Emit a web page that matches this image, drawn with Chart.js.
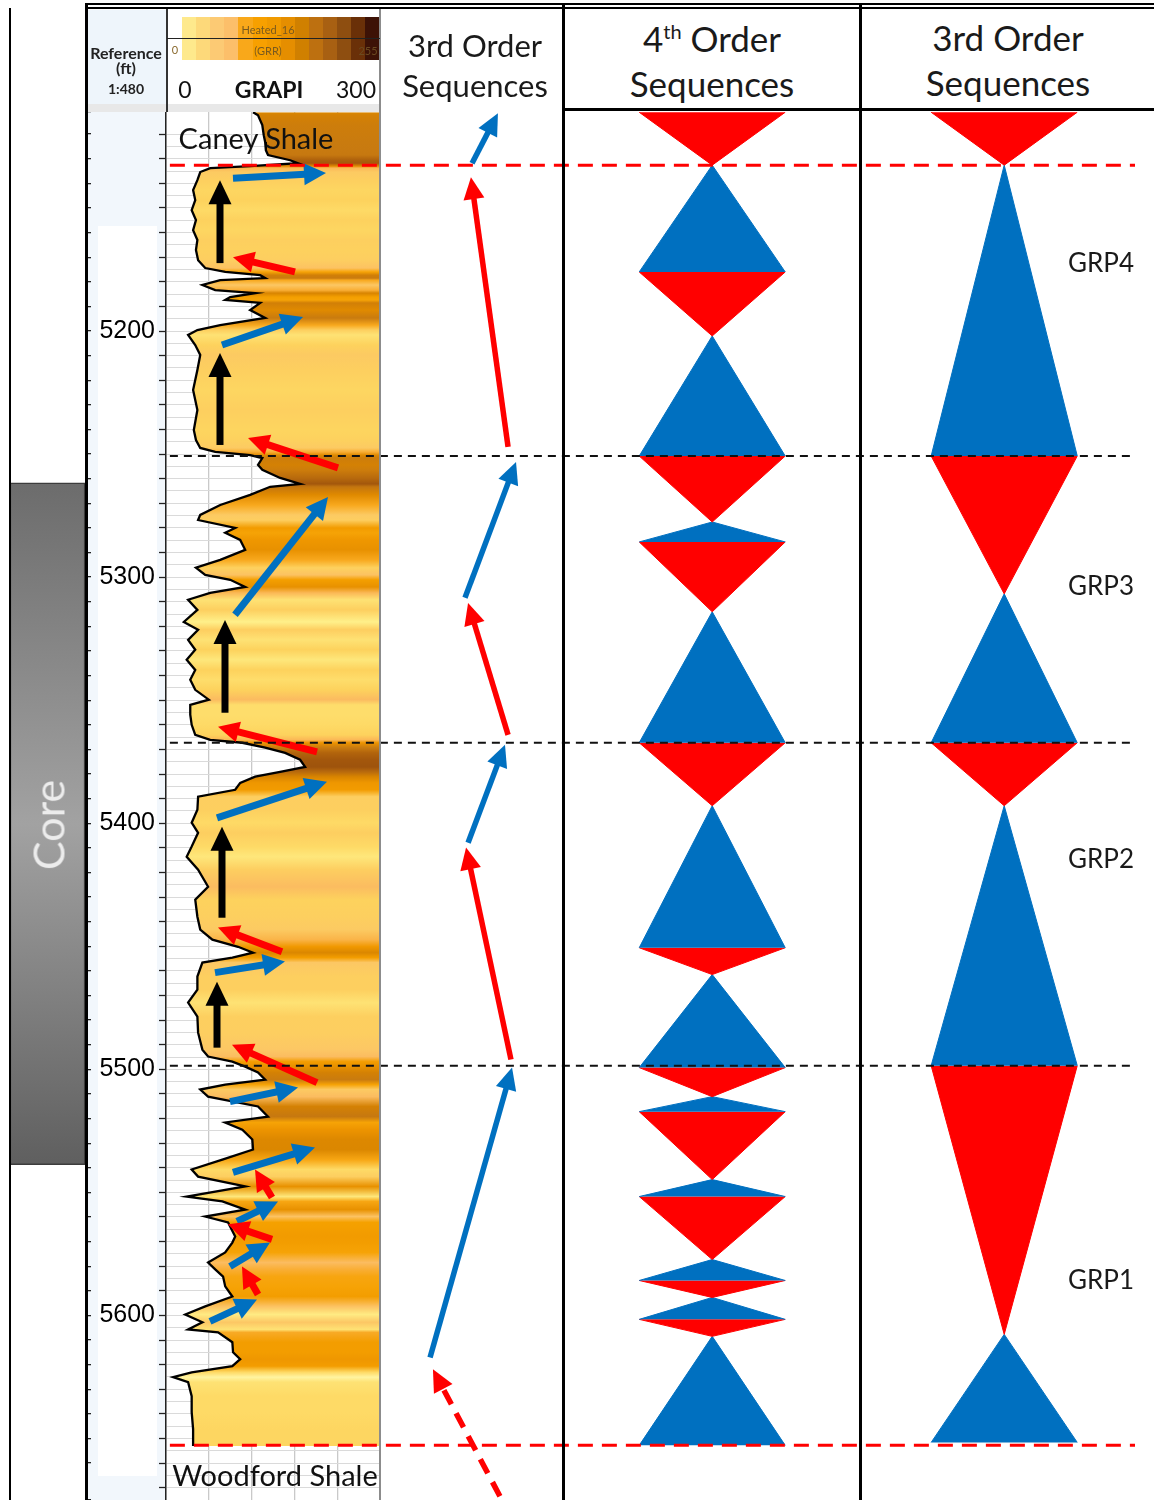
<!DOCTYPE html>
<html>
<head>
<meta charset="utf-8">
<title>GR log and sequence stratigraphy</title>
<script src="https://cdn.jsdelivr.net/npm/chart.js@4.4.1/dist/chart.umd.min.js"></script>
<style>
  body { margin: 0; background: #fff; }
  #fig { position: relative; width: 1154px; height: 1500px; overflow: hidden; background: #fff;
         font-family: Lato, "Open Sans", sans-serif; color: #111; }
  #fig canvas { position: absolute; }
  .box { position: absolute; }
  .txt { position: absolute; line-height: 1; white-space: nowrap; transform: translate(-50%, -50%); }
  .head { font-size: 35px; color: #1a1a1a; }
  .grp { font-size: 26px; color: #1a1a1a; }
</style>
</head>
<body>
<div id="fig">
  <!-- track backgrounds -->
  <div class="box" style="left:88px;top:10px;width:78px;height:95px;background:#eef5fb"></div>
  <div class="box" style="left:88px;top:104px;width:292px;height:8px;background:#e8e8e8"></div>
  <div class="box" style="left:88px;top:112px;width:78px;height:1388px;background:#f2f7fc"></div>
  <div class="box" style="left:98px;top:226px;width:59px;height:1250px;background:#fff"></div>
  <div id="colorbar"></div>

  <canvas id="coreChart" width="75" height="1388" style="left:10px;top:112px"></canvas>
  <canvas id="grChart" width="295" height="1388" style="left:85px;top:112px"></canvas>
  <canvas id="ord3ArrowChart" width="181" height="1388" style="left:381px;top:112px"></canvas>
  <canvas id="seq4Chart" width="295" height="1388" style="left:564px;top:112px"></canvas>
  <canvas id="seq3Chart" width="293" height="1388" style="left:861px;top:112px"></canvas>
  <canvas id="boundChart" width="969" height="1388" style="left:166px;top:112px"></canvas>

  <!-- frame -->
  <div class="box" style="left:85px;top:3px;width:1069px;height:2px;background:#000"></div>
  <div class="box" style="left:85px;top:7px;width:1069px;height:2px;background:#000"></div>
  <div class="box" style="left:9px;top:8px;width:1.5px;height:1492px;background:#000"></div>
  <div class="box" style="left:85px;top:3px;width:2.5px;height:1497px;background:#000"></div>
  <div class="box" style="left:166px;top:9px;width:1.5px;height:103px;background:#333"></div>
  <div class="box" style="left:379px;top:9px;width:2px;height:1491px;background:#8c8c8c"></div>
  <div class="box" style="left:562px;top:3px;width:2.5px;height:1497px;background:#000"></div>
  <div class="box" style="left:859px;top:3px;width:2.5px;height:1497px;background:#000"></div>
  <div class="box" style="left:562px;top:108px;width:592px;height:3px;background:#000"></div>
  <div class="box" style="left:167px;top:38px;width:213px;height:1px;background:#222"></div>

  <!-- header text -->
  <div class="txt" style="left:126px;top:53px;font-size:16px;font-weight:700;color:#222">Reference</div>
  <div class="txt" style="left:126px;top:68px;font-size:16px;font-weight:700;color:#222">(ft)</div>
  <div class="txt" style="left:126px;top:89px;font-size:14px;font-weight:700;color:#222">1:480</div>
  <div class="txt" style="left:268px;top:29px;font-size:11px;color:#7a5a1e">Heated_16</div>
  <div class="txt" style="left:268px;top:50px;font-size:11px;color:#7a5a1e">(GRR)</div>
  <div class="txt" style="left:175px;top:49px;font-size:11px;color:#8a6a2e">0</div>
  <div class="txt" style="left:368px;top:50px;font-size:11px;color:#6b4a20">255</div>
  <div class="txt" style="left:185px;top:89px;font-size:23px">0</div>
  <div class="txt" style="left:269px;top:89px;font-size:23px;font-weight:700">GRAPI</div>
  <div class="txt" style="left:356px;top:89px;font-size:23px">300</div>
  <div class="txt head" style="left:475px;top:45px;font-size:31px">3rd Order</div>
  <div class="txt head" style="left:475px;top:85px;font-size:31px">Sequences</div>
  <div class="txt head" style="left:712px;top:38px">4<sup style="font-size:20px">th</sup> Order</div>
  <div class="txt head" style="left:712px;top:83px">Sequences</div>
  <div class="txt head" style="left:1008px;top:37px">3rd Order</div>
  <div class="txt head" style="left:1008px;top:82px">Sequences</div>
  <div class="txt" style="left:256px;top:137px;font-size:29px">Caney Shale</div>
  <div class="txt" style="left:275px;top:1474px;font-size:29px">Woodford Shale</div>
  <div class="txt" style="left:48px;top:825px;font-size:43px;color:#ececec;transform:translate(-50%,-50%) rotate(-90deg)">Core</div>
</div>

<script>
const DEPTH_MIN = 5111;
const DEPTH_MAX = 5675;

// gamma-ray curve (depth ft, GR API)
const grDepth = [5111.1, 5112.3, 5116.3, 5120.4, 5123.2, 5126.5, 5128.5, 5130.6, 5131.8, 5133.0,
  5133.8, 5135.4, 5138.7, 5142.7, 5146.8, 5150.9, 5154.9, 5159.0, 5163.0, 5167.1,
  5171.2, 5174.4, 5176.0, 5177.3, 5178.5, 5179.3, 5181.3, 5183.4, 5184.6, 5186.2,
  5187.4, 5188.6, 5191.5, 5194.7, 5197.6, 5199.6, 5201.6, 5205.7, 5209.7, 5215.8,
  5224.0, 5232.1, 5240.2, 5244.3, 5247.5, 5249.1, 5250.4, 5251.6, 5254.4, 5256.4,
  5259.7, 5262.1, 5263.3, 5266.6, 5270.7, 5274.7, 5276.8, 5280.0, 5282.0, 5284.9,
  5288.9, 5293.0, 5296.2, 5299.1, 5301.1, 5304.0, 5306.4, 5309.2, 5313.3, 5318.2,
  5321.4, 5325.5, 5329.5, 5333.6, 5337.7, 5341.7, 5345.8, 5349.8, 5351.9, 5355.9,
  5360.0, 5364.1, 5366.1, 5367.3, 5369.3, 5371.4, 5374.2, 5377.1, 5379.1, 5381.1,
  5383.6, 5386.4, 5389.2, 5394.5, 5399.8, 5403.9, 5409.5, 5413.6, 5418.9, 5425.8,
  5431.1, 5438.0, 5443.2, 5447.3, 5450.2, 5452.6, 5454.6, 5456.6, 5462.3, 5467.6,
  5472.9, 5478.6, 5485.1, 5492.0, 5494.8, 5496.9, 5498.9, 5501.3, 5504.2, 5506.2,
  5508.2, 5511.1, 5515.1, 5519.2, 5521.6, 5524.5, 5528.5, 5532.6, 5536.7, 5540.7,
  5543.6, 5547.6, 5551.7, 5553.7, 5557.0, 5559.8, 5562.2, 5567.9, 5570.4, 5574.4,
  5578.5, 5581.3, 5584.2, 5588.2, 5592.3, 5596.3, 5599.6, 5602.8, 5605.7, 5606.9,
  5610.9, 5615.0, 5617.8, 5620.6, 5623.1, 5625.1, 5627.1, 5632.8, 5639.3, 5646.2, 5653.1];
const grApi = [122, 129, 135, 137, 139, 140, 143, 174, 185, 118,
  62, 48, 44, 38, 41, 36, 42, 38, 44, 42,
  45, 55, 83, 132, 139, 76, 51, 69, 125, 90,
  83, 132, 118, 139, 76, 44, 31, 41, 48, 44,
  38, 44, 39, 42, 48, 69, 118, 135, 129, 135,
  160, 188, 146, 118, 76, 48, 45, 97, 83, 104,
  111, 76, 42, 55, 90, 111, 62, 31, 44, 25,
  45, 31, 41, 29, 41, 34, 41, 60, 34, 34,
  36, 41, 62, 107, 139, 167, 188, 195, 160, 125,
  104, 97, 45, 44, 36, 45, 36, 29, 45, 59,
  41, 44, 48, 65, 101, 122, 93, 51, 44, 44,
  31, 44, 45, 51, 59, 93, 111, 129, 139, 83,
  48, 59, 129, 143, 83, 107, 121, 122, 79, 36,
  45, 111, 29, 79, 111, 55, 87, 97, 93, 83,
  59, 69, 80, 83, 93, 55, 27, 51, 31, 73,
  93, 94, 104, 93, 36, 10, 31, 36, 36, 38, 38];

// Heated colour scale (GR API -> colour)
const heatApi = [0, 25, 32, 40, 50, 60, 70, 85, 105, 125, 140, 170, 200, 250, 300];
const heatColor = ['#fff7b0', '#fff08a', '#fee070', '#fdd35c', '#fcc864', '#fbbb60', '#f9ac30', '#f6a200',
  '#ef9600', '#d88400', '#c87a10', '#b0620c', '#9a500c', '#6a3008', '#3a1005'];
const colorbarColors = ['#fee98c', '#fdd97a', '#fcca74', '#fcbf6a', '#f9a81a', '#f7a000', '#f09a00',
  '#e58e00', '#d08000', '#bd7010', '#a86012', '#8e4e10', '#6a3008', '#3d1206'];

// interpretation arrows on the GR track: [GR from, depth from, GR to, depth to]
const blackArrows = [[75.7, 5172.4, 75.7, 5138.7], [75.7, 5246.3, 75.7, 5208.9], [82.7, 5355.1, 82.7, 5317.4],
  [78.5, 5438.4, 78.5, 5401.4], [71.5, 5491.2, 71.5, 5464.4]];
const blueArrows = [[93.9, 5137.9, 224.3, 5135.8], [78.5, 5205.7, 192.1, 5194.3], [96.7, 5315.3, 227.1, 5267.4],
  [71.5, 5397.8, 225.7, 5383.1], [68.7, 5460.7, 166.8, 5456.2], [89.7, 5513.1, 185.1, 5507.4],
  [93.9, 5541.9, 208.9, 5531.8], [99.5, 5561.8, 157.0, 5553.7], [89.7, 5580.1, 145.8, 5570.4],
  [61.7, 5602.4, 127.6, 5593.5]];
const redArrows = [[180.8, 5176.0, 93.9, 5170.0], [241.1, 5255.6, 115.0, 5243.5], [211.7, 5371.0, 72.9, 5360.8],
  [162.6, 5452.2, 72.9, 5442.4], [211.7, 5505.4, 92.5, 5490.0], [148.6, 5552.1, 124.8, 5540.7],
  [148.6, 5569.1, 86.9, 5563.0], [129.0, 5591.5, 106.5, 5580.1]];

// 3rd order trend arrows (position across column 0-100, depth)
const ord3Blue = [[50.3, 5131.8, 64.6, 5111.5], [46.4, 5308.4, 74.6, 5253.2], [48.1, 5407.9, 68.5, 5368.1],
  [27.1, 5617.1, 72.4, 5499.3]];
const ord3Red = [[70.2, 5247.1, 49.7, 5137.5], [70.2, 5364.1, 48.1, 5310.5], [71.8, 5496.0, 47.0, 5409.9]];
const ord3RedDashed = [[65.7, 5673.5, 28.7, 5621.9]];

// sequence triangles: boundaries (depth) and type of each interval (R = regressive, B = transgressive)
const seq4Bounds = [5111.1, 5132.6, 5176.0, 5202.0, 5250.8, 5277.6, 5285.7, 5314.1, 5367.3, 5392.9, 5450.6,
  5461.5, 5499.3, 5511.1, 5517.2, 5544.8, 5551.7, 5577.3, 5585.8, 5592.7, 5601.6, 5608.5, 5652.8];
const seq4Types = ['R', 'B', 'R', 'B', 'R', 'B', 'R', 'B', 'R', 'B', 'R', 'B', 'R', 'B', 'R', 'B', 'R', 'B', 'R', 'B', 'R', 'B'];
const seq3Bounds = [5111.1, 5132.6, 5250.8, 5306.8, 5367.3, 5392.9, 5498.5, 5607.7, 5651.6];
const seq3Types = ['R', 'B', 'R', 'B', 'R', 'B', 'R', 'B'];
const grpNames = ['GRP4', 'GRP3', 'GRP2', 'GRP1'];
const grpDepth = [5172.0, 5303.1, 5414.0, 5585.4];

// formation tops / sequence boundaries
const redBounds = [5132.6, 5652.8];
const blackBounds = [5250.8, 5367.3, 5498.5];
const coreInterval = [5261.7, 5538.7];

const RED = '#ff0000';
const BLUE = '#0070c0';
const fig = document.getElementById('fig');

// header colour bar
colorbarColors.forEach((c, i) => {
  [17, 39].forEach((top) => {
    const d = document.createElement('div');
    d.className = 'box';
    d.style.cssText = `left:${182 + i * 14.1}px;top:${top}px;width:14.6px;height:21px;background:${c}`;
    fig.insertBefore(d, document.getElementById('colorbar'));
  });
});

function hexRgb(h) {
  return [1, 3, 5].map((k) => parseInt(h.slice(k, k + 2), 16));
}

function heat(api) {
  let i = 0;
  while (i < heatApi.length - 2 && api > heatApi[i + 1]) i++;
  const t = Math.max(0, Math.min(1, (api - heatApi[i]) / (heatApi[i + 1] - heatApi[i])));
  const a = hexRgb(heatColor[i]);
  const b = hexRgb(heatColor[i + 1]);
  const c = a.map((v, k) => Math.round(v + (b[k] - v) * t));
  return `rgb(${c[0]},${c[1]},${c[2]})`;
}

const depthAxis = () => ({ type: 'linear', reverse: true, min: DEPTH_MIN, max: DEPTH_MAX, display: false });

// keep the depth axes flush with the canvas top and bottom
function noLabelPadding(s) {
  s.paddingTop = 0;
  s.paddingBottom = 0;
}

const baseOptions = {
  responsive: false,
  animation: false,
  devicePixelRatio: 1,
  events: [],
  layout: { padding: 0, autoPadding: false },
  plugins: { legend: { display: false }, tooltip: { enabled: false } },
};

const arrowHeads = {
  id: 'arrowHeads',
  afterDatasetsDraw(chart) {
    const g = chart.ctx;
    chart.data.datasets.forEach((ds, i) => {
      const a = ds.arrow;
      if (!a) return;
      const [p, q] = chart.getDatasetMeta(i).data;
      const ang = Math.atan2(q.y - p.y, q.x - p.x);
      const ux = Math.cos(ang), uy = Math.sin(ang);
      const bx = q.x - ux * a.head, by = q.y - uy * a.head;
      g.save();
      g.strokeStyle = a.color;
      g.fillStyle = a.color;
      g.lineWidth = a.width;
      g.lineCap = 'butt';
      g.setLineDash(a.dash || []);
      g.beginPath();
      g.moveTo(p.x, p.y);
      g.lineTo(bx + ux, by + uy);
      g.stroke();
      g.setLineDash([]);
      g.beginPath();
      g.moveTo(q.x, q.y);
      g.lineTo(bx - uy * a.headW / 2, by + ux * a.headW / 2);
      g.lineTo(bx + uy * a.headW / 2, by - ux * a.headW / 2);
      g.closePath();
      g.fill();
      g.restore();
    });
  },
};

function arrowSets(list, arrow) {
  return list.map((r) => ({
    data: [{ x: r[0], y: r[1] }, { x: r[2], y: r[3] }],
    showLine: false, pointRadius: 0, arrow,
  }));
}

// vertical gradient between two depths, only once the layout is known
function depthGradient(chart, d0, d1, stops) {
  const y = chart.scales.y;
  if (!chart.chartArea || !y) return null;
  const p0 = y.getPixelForValue(d0), p1 = y.getPixelForValue(d1);
  if (!isFinite(p0) || !isFinite(p1) || p0 === p1) return null;
  const g = chart.ctx.createLinearGradient(0, p0, 0, p1);
  stops.forEach(([o, c]) => g.addColorStop(o, c));
  return g;
}

// core interval
new Chart(document.getElementById('coreChart'), {
  type: 'bar',
  data: {
    labels: ['Core'],
    datasets: [{
      data: [coreInterval],
      backgroundColor: (ctx) => depthGradient(ctx.chart, coreInterval[0], coreInterval[1],
        [[0, '#6c6c6c'], [0.5, '#a2a2a2'], [1, '#5f5f5f']]) || '#888',
      borderColor: '#3c3c3c', borderWidth: 1.5, borderSkipped: false,
      barPercentage: 1, categoryPercentage: 1,
    }],
  },
  options: { ...baseOptions, scales: { x: { display: false }, y: depthAxis() } },
});

// GR track with depth axis
new Chart(document.getElementById('grChart'), {
  type: 'line',
  data: {
    datasets: [
      {
        data: grDepth.map((d, i) => ({ x: grApi[i], y: d })),
        borderColor: '#000', borderWidth: 2.3, pointRadius: 0, tension: 0,
        fill: { value: 300 },
        backgroundColor(ctx) {
          const y = ctx.chart.scales.y;
          const stops = [];
          if (y && isFinite(y.top) && y.bottom > y.top) {
            grDepth.forEach((d, i) => {
              const p = (y.getPixelForValue(d) - y.top) / (y.bottom - y.top);
              if (p >= 0 && p <= 1) stops.push([p, heat(grApi[i])]);
            });
          }
          return depthGradient(ctx.chart, DEPTH_MIN, DEPTH_MAX, stops) || '#fdd25c';
        },
      },
      ...arrowSets(blackArrows, { color: '#000', width: 7, head: 24, headW: 23 }),
      ...arrowSets(blueArrows, { color: BLUE, width: 7, head: 22, headW: 22 }),
      ...arrowSets(redArrows, { color: RED, width: 7, head: 21, headW: 21 }),
    ],
  },
  options: {
    ...baseOptions,
    indexAxis: 'y',
    scales: {
      x: {
        type: 'linear', min: 0, max: 300,
        ticks: { display: false, stepSize: 60 },
        grid: { color: '#c9c9c9', lineWidth: 1.3, drawTicks: false },
        border: { display: false },
      },
      yt: {
        type: 'linear', position: 'left', weight: 1, reverse: true, min: DEPTH_MIN, max: DEPTH_MAX,
        ticks: { display: false, stepSize: 10, autoSkip: false, maxTicksLimit: 200 },
        grid: { drawOnChartArea: false, drawTicks: true, tickLength: 6, color: '#222', lineWidth: 1.3 },
        border: { display: false },
        afterFit(s) { s.width = 6; noLabelPadding(s); },
      },
      y: {
        type: 'linear', position: 'left', weight: 0, reverse: true, min: DEPTH_MIN, max: DEPTH_MAX,
        ticks: {
          stepSize: 5, autoSkip: false, maxTicksLimit: 200, padding: 4, color: '#000',
          font: { size: 25 },
          callback: (v) => (v % 100 === 0 ? String(v) : ''),
        },
        grid: {
          color: (c) => (c.tick && c.tick.value % 5 === 0 ? '#dadada' : 'rgba(0,0,0,0)'),
          tickColor: (c) => (c.tick && c.tick.value % 10 === 0 ? '#222' : 'rgba(0,0,0,0)'),
          tickLength: 7, tickWidth: 1.3,
        },
        border: { display: true, color: '#222', width: 1.5 },
        afterFit(s) { s.width = 75; noLabelPadding(s); },
      },
    },
  },
  plugins: [arrowHeads],
});

// 3rd order trend arrows
new Chart(document.getElementById('ord3ArrowChart'), {
  type: 'line',
  data: {
    datasets: [
      ...arrowSets(ord3Blue, { color: BLUE, width: 5.5, head: 22, headW: 21 }),
      ...arrowSets(ord3Red, { color: RED, width: 5.5, head: 22, headW: 21 }),
      ...arrowSets(ord3RedDashed, { color: RED, width: 5.5, head: 22, headW: 21, dash: [16, 10] }),
    ],
  },
  options: { ...baseOptions, scales: { x: { type: 'linear', display: false, min: 0, max: 100 }, y: depthAxis() } },
  plugins: [arrowHeads],
});

function triangles(bounds, types) {
  return types.map((t, i) => {
    const base = t === 'R' ? bounds[i] : bounds[i + 1];
    const apex = t === 'R' ? bounds[i + 1] : bounds[i];
    const color = t === 'R' ? RED : BLUE;
    return {
      data: [{ x: -1, y: base }, { x: 0, y: apex }, { x: 1, y: base }],
      fill: { value: base }, backgroundColor: color, borderColor: color, borderWidth: 1,
      pointRadius: 0, tension: 0,
    };
  });
}

new Chart(document.getElementById('seq4Chart'), {
  type: 'line',
  data: { datasets: triangles(seq4Bounds, seq4Types) },
  options: { ...baseOptions, scales: { x: { type: 'linear', display: false, min: -2.03, max: 2.01 }, y: depthAxis() } },
});

const seq3 = new Chart(document.getElementById('seq3Chart'), {
  type: 'line',
  data: { datasets: triangles(seq3Bounds, seq3Types) },
  options: { ...baseOptions, scales: { x: { type: 'linear', display: false, min: -1.96, max: 2.05 }, y: depthAxis() } },
});

grpNames.forEach((name, i) => {
  const d = document.createElement('div');
  d.className = 'txt grp';
  d.textContent = name;
  d.style.left = '1101px';
  d.style.top = (112 + seq3.scales.y.getPixelForValue(grpDepth[i])) + 'px';
  fig.appendChild(d);
});

// dashed boundaries across all tracks
new Chart(document.getElementById('boundChart'), {
  type: 'line',
  data: {
    datasets: [
      ...redBounds.map((d) => ({
        data: [{ x: 0.004, y: d }, { x: 1, y: d }],
        borderColor: RED, borderWidth: 3, borderDash: [15, 9], pointRadius: 0,
      })),
      ...blackBounds.map((d) => ({
        data: [{ x: 0.004, y: d }, { x: 1, y: d }],
        borderColor: '#111', borderWidth: 2, borderDash: [8, 6], pointRadius: 0,
      })),
    ],
  },
  options: { ...baseOptions, scales: { x: { type: 'linear', display: false, min: 0, max: 1 }, y: depthAxis() } },
});
</script>
</body>
</html>
